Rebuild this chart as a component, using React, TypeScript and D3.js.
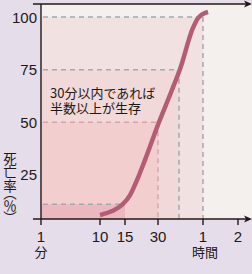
import React from "react";
import * as d3 from "d3";

// 経過時間(分)と死亡率(%)
const curveMinutes = [10, 12.4, 14.4, 17.3, 20.5, 24.1, 30.7, 39.3, 44.7, 53.3, 56.7, 68.6];
const curveRates = [5.9, 7.8, 10.7, 15.4, 22.6, 32.1, 50.1, 65.3, 75.3, 94.8, 99.5, 102.4];

const xTicks = [1, 10, 15, 30, 60, 120];
const xTickLabels = ["1", "10", "15", "30", "1", "2"];
const yTicks = [25, 50, 75, 100];

// 目安の区切り (分, %)
const guideMinutes = [60, 44, 30, 15];
const guideRates = [100, 75, 50, 11];
const guideFills = ["#f2e1e1", "#f1d9da", "#f2cecf", "#ebb8bf"];
const guideStrokes = ["#a3a9b1", "#a3a9b1", "#dca3ad", "#a3a9b1"];

const W = 252;
const H = 274;

const App = () => {
  const x = d3
    .scaleLinear()
    .domain([1, 10, 15, 30, 60, 120])
    .range([41, 100, 125, 158, 203, 238]);
  const y = d3.scaleLinear().domain([0, 100]).range([227.5, 17]);
  const axisY = 219;
  const left = x(1);

  const pts = curveMinutes.map((m, i) => [x(m), y(curveRates[i])] as [number, number]);
  const line = d3.line().curve(d3.curveMonotoneX)(pts) || "";

  const font = "'Liberation Sans', Arial, sans-serif";
  const jp = "'Noto Sans CJK JP', sans-serif";
  const ink = "#231815";

  return (
    <svg width={W} height={H} style={{ position: "absolute", left: 0, top: 0 }}>
      <rect x={0} y={0} width={W} height={H} fill="#e5ddea" />
      <rect x={left} y={4} width={W - left} height={axisY - 4} fill="#f4f0ee" />

      {guideMinutes.map((m, i) => (
        <rect
          key={"r" + i}
          x={left}
          y={y(guideRates[i])}
          width={x(m) - left}
          height={axisY - y(guideRates[i])}
          fill={guideFills[i]}
        />
      ))}

      {guideMinutes.map((m, i) => (
        <g key={"d" + i} stroke={guideStrokes[i]} strokeWidth={1.5} strokeDasharray="5,4" fill="none">
          <line x1={left + 2} x2={i === 3 ? x(14) : x(m)} y1={y(guideRates[i])} y2={y(guideRates[i])} />
          {i < 3 && <line x1={x(m)} x2={x(m)} y1={y(guideRates[i])} y2={axisY} />}
        </g>
      ))}

      <path d={line} fill="none" stroke="#b25d74" strokeWidth={4.5} />

      <text fontFamily={jp} fontSize={13} fill={ink}>
        <tspan x={50} y={98}>30分以内であれば</tspan>
        <tspan x={50} y={112.5}>半数以上が生存</tspan>
      </text>

      {/* 枠と軸 */}
      <g stroke={ink} strokeWidth={1.4} fill="none">
        <line x1={33} x2={248} y1={4} y2={4} />
        <line x1={33} x2={248} y1={axisY} y2={axisY} />
        <line x1={left} x2={left} y1={4} y2={axisY} />
        {xTicks.map((t) => (
          <line key={t} x1={x(t)} x2={x(t)} y1={axisY} y2={axisY + 6} />
        ))}
      </g>
      <path d="M252,4 L244,0.5 L246,4 L244,7.5 Z" fill={ink} />
      <path d={`M252,${axisY} L244,${axisY - 3.5} L246,${axisY} L244,${axisY + 3.5} Z`} fill={ink} />

      {yTicks.map((t) => (
        <text key={t} x={37} y={y(t) + 5.5} textAnchor="end" fontFamily={font} fontSize={15} fill={ink}>
          {t}
        </text>
      ))}
      {xTicks.map((t, i) => (
        <text key={t} x={x(t)} y={241.5} textAnchor="middle" fontFamily={font} fontSize={15} fill={ink}>
          {xTickLabels[i]}
        </text>
      ))}
      <text x={x(1)} y={257} textAnchor="middle" fontFamily={jp} fontSize={13} fill={ink}>分</text>
      <text x={x(60) + 2} y={257} textAnchor="middle" fontFamily={jp} fontSize={13} fill={ink}>時間</text>

      <text
        x={10}
        y={152}
        fontFamily={jp}
        fontSize={13.5}
        fill={ink}
        style={{ writingMode: "vertical-rl", fontFeatureSettings: "'vpal'" }}
      >
        死亡率（％）
      </text>
    </svg>
  );
};

export default App;
